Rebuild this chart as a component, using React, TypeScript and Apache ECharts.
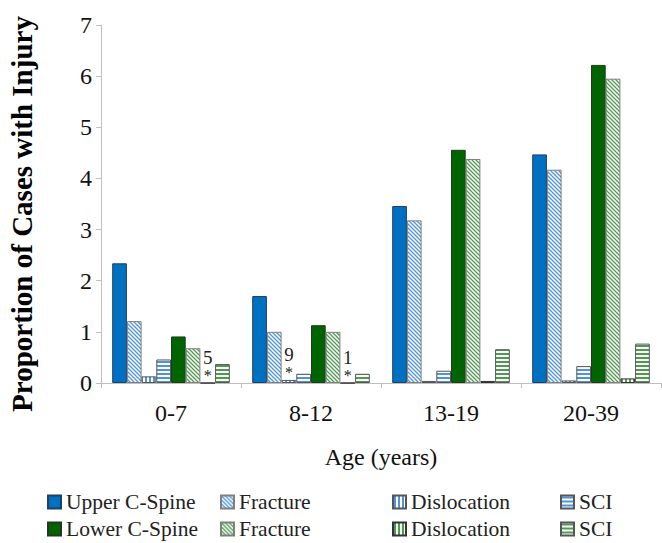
import React, { useEffect, useRef } from "react";
import * as echarts from "echarts";

const categories = ["0-7", "8-12", "13-19", "20-39"];
const upperCSpine = [2.34, 1.7, 3.46, 4.47];
const upperFracture = [1.21, 1.0, 3.18, 4.17];
const upperDislocation = [0.13, 0.06, 0.04, 0.05];
const upperSCI = [0.46, 0.18, 0.24, 0.33];
const lowerCSpine = [0.91, 1.13, 4.56, 6.22];
const lowerFracture = [0.68, 1.0, 4.38, 5.95];
const lowerDislocation = [0, 0, 0.04, 0.09];
const lowerSCI = [0.37, 0.18, 0.66, 0.77];
const upperDislocationNotes = ["", "9", "", ""];
const lowerDislocationNotes = ["5", "1", "", ""];

const yTicks = [0, 1, 2, 3, 4, 5, 6, 7];

const FONT = "Liberation Serif";
const BLUE = "#0070c0";
const BLUE_LINE = "#4f94d8";
const GREEN = "#006400";
const GREEN_LINE = "#4e9a4e";

function makePattern(kind: string, color: string) {
  const size = 4;
  const c = document.createElement("canvas");
  c.width = size;
  c.height = size;
  const ctx = c.getContext("2d")!;
  ctx.fillStyle = "#ffffff";
  ctx.fillRect(0, 0, size, size);
  ctx.fillStyle = color;
  ctx.strokeStyle = color;
  if (kind === "diag") {
    ctx.lineWidth = 1.3;
    ctx.beginPath();
    ctx.moveTo(-1, -1);
    ctx.lineTo(size + 1, size + 1);
    ctx.moveTo(-1, size - 1);
    ctx.lineTo(1, size + 1);
    ctx.moveTo(size - 1, -1);
    ctx.lineTo(size + 1, 1);
    ctx.stroke();
  } else if (kind === "vert") {
    ctx.fillRect(1, 0, 2, size);
  } else {
    ctx.fillRect(0, 1, size, 2);
  }
  return {
    image: c.toDataURL(),
    imageWidth: size,
    imageHeight: size,
    repeat: "repeat",
  };
}

const displayNames: Record<string, string> = {
  "Upper C-Spine": "Upper C-Spine",
  "Upper Fracture": "Fracture",
  "Upper Dislocation": "Dislocation",
  "Upper SCI": "SCI",
  "Lower C-Spine": "Lower C-Spine",
  "Lower Fracture": "Fracture",
  "Lower Dislocation": "Dislocation",
  "Lower SCI": "SCI",
};

export default function App() {
  const ref = useRef<HTMLDivElement>(null);

  useEffect(() => {
    if (!ref.current) return;
    const chart = echarts.init(ref.current, undefined, { renderer: "svg" });

    const noteLabel = (note: string) =>
      note
        ? {
            show: true,
            position: "top",
            distance: 0,
            formatter: "{n|" + note + "}\n{s|*}",
            rich: {
              n: { fontFamily: FONT, fontSize: 19, lineHeight: 19, color: "#222" },
              s: { fontFamily: FONT, fontSize: 16, lineHeight: 16, color: "#222", padding: [2, 0, 0, 0] },
            },
          }
        : undefined;

    const withNotes = (vals: number[], notes: string[]) =>
      vals.map((v, i) => (notes[i] ? { value: v, label: noteLabel(notes[i]) } : v));

    const mk = (name: string, data: any[], color: any, border: string) => ({
      name,
      type: "bar",
      data,
      barGap: "0%",
      barCategoryGap: "16%",
      itemStyle: { color, borderColor: border, borderWidth: 1 },
      emphasis: { disabled: true },
    });

    const series = [
      mk("Upper C-Spine", upperCSpine, BLUE, "#1f3f66"),
      mk("Upper Fracture", upperFracture, makePattern("diag", BLUE_LINE), "#7f7f7f"),
      mk("Upper Dislocation", withNotes(upperDislocation, upperDislocationNotes), makePattern("vert", BLUE_LINE), "#555555"),
      mk("Upper SCI", upperSCI, makePattern("horiz", BLUE_LINE), "#555555"),
      mk("Lower C-Spine", lowerCSpine, GREEN, "#1f3a1f"),
      mk("Lower Fracture", lowerFracture, makePattern("diag", GREEN_LINE), "#7f7f7f"),
      mk("Lower Dislocation", withNotes(lowerDislocation, lowerDislocationNotes), makePattern("vert", GREEN_LINE), "#333333"),
      mk("Lower SCI", lowerSCI, makePattern("horiz", GREEN_LINE), "#555555"),
    ];

    const legendCols = [
      { left: 47, data: ["Upper C-Spine", "Lower C-Spine"] },
      { left: 220, data: ["Upper Fracture", "Lower Fracture"] },
      { left: 392, data: ["Upper Dislocation", "Lower Dislocation"] },
      { left: 560, data: ["Upper SCI", "Lower SCI"] },
    ];

    const legend = legendCols.map((c) => ({
      left: c.left,
      top: 491,
      orient: "vertical",
      padding: 0,
      itemGap: 5,
      itemWidth: 13,
      itemHeight: 13,
      icon: "rect",
      selectedMode: false,
      data: c.data,
      formatter: (n: string) => displayNames[n] || n,
      textStyle: { fontFamily: FONT, fontSize: 21.5, lineHeight: 21, color: "#222" },
    }));

    chart.setOption({
      animation: false,
      backgroundColor: "#ffffff",
      grid: { left: 101, right: 1, top: 25, bottom: 160, containLabel: false },
      legend,
      xAxis: {
        type: "category",
        data: categories,
        boundaryGap: true,
        axisLine: { show: true, lineStyle: { color: "#bfbfbf", width: 1 } },
        axisTick: { show: true, length: 5, lineStyle: { color: "#bfbfbf" } },
        axisLabel: { fontFamily: FONT, fontSize: 24, color: "#111", margin: 18 },
      },
      yAxis: {
        type: "value",
        min: 0,
        max: 7,
        interval: 1,
        splitLine: { show: false },
        axisLine: { show: true, lineStyle: { color: "#bfbfbf", width: 1 } },
        axisTick: { show: true, length: 5, lineStyle: { color: "#bfbfbf" } },
        axisLabel: {
          fontFamily: FONT,
          fontSize: 24,
          color: "#111",
          margin: 9,
          formatter: (v: number) => (yTicks.includes(v) ? String(v) : ""),
        },
      },
      graphic: [
        {
          type: "text",
          x: 22,
          y: 214,
          rotation: Math.PI / 2,
          style: {
            text: "Proportion of Cases with Injury",
            fontFamily: FONT,
            fontWeight: "bold",
            fontSize: 29,
            fill: "#000",
            textAlign: "center",
            textVerticalAlign: "middle",
          },
        },
        {
          type: "text",
          x: 381,
          y: 457,
          style: {
            text: "Age (years)",
            fontFamily: FONT,
            fontSize: 24,
            fill: "#111",
            textAlign: "center",
            textVerticalAlign: "middle",
          },
        },
      ],
      series,
    });

    return () => chart.dispose();
  }, []);

  return (
    <div
      ref={ref}
      style={{ position: "fixed", left: 0, top: 0, width: 662, height: 543, background: "#fff" }}
    />
  );
}
